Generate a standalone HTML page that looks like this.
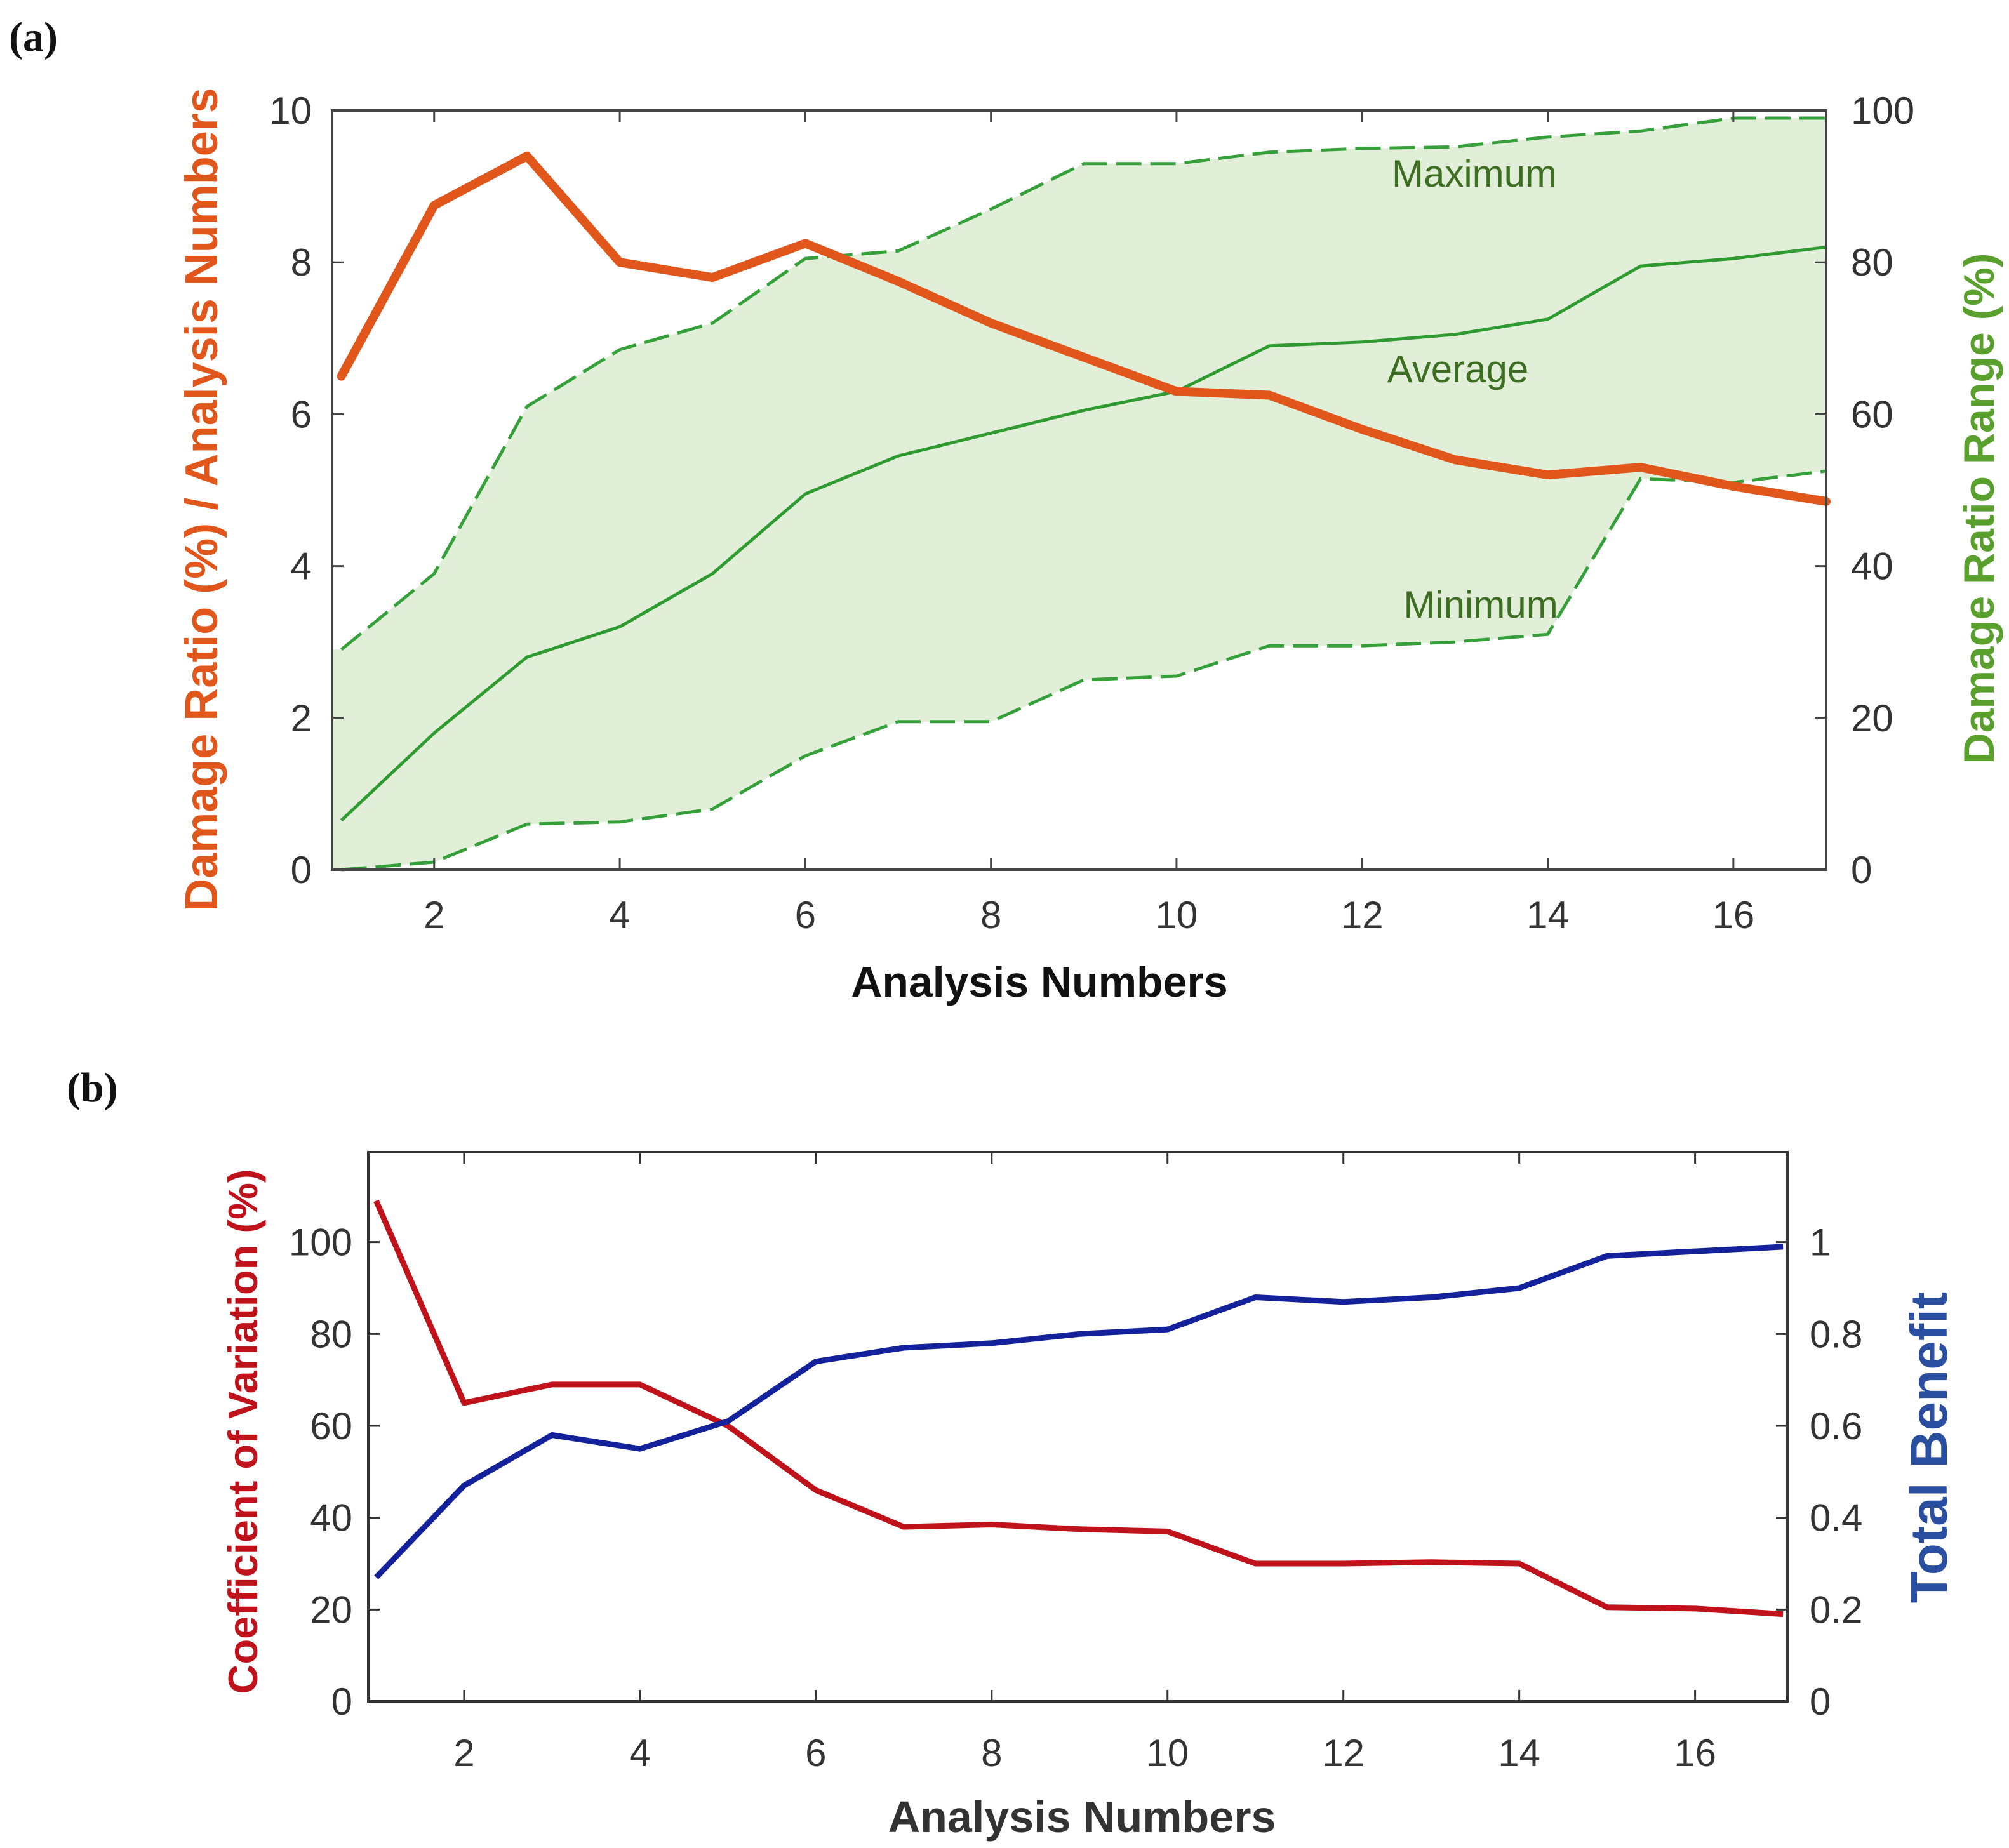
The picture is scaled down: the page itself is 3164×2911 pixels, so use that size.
<!DOCTYPE html>
<html><head><meta charset="utf-8"><style>
html,body{margin:0;padding:0;background:#fff;}
svg{display:block;font-family:"Liberation Sans",Arial,sans-serif;}
</style></head><body>
<svg id="fig" width="3164" height="2911" viewBox="0 0 3164 2911" xmlns="http://www.w3.org/2000/svg">
<rect width="3164" height="2911" fill="#fff"/>
<text x="14" y="80" font-family="Liberation Serif,serif" font-weight="bold" font-size="66" fill="#111">(a)</text>
<text x="105" y="1735" font-family="Liberation Serif,serif" font-weight="bold" font-size="66" fill="#111">(b)</text>
<g id="ga"></g>
<g id="gb"></g>
</svg>
<script>
const xCats = [1,2,3,4,5,6,7,8,9,10,11,12,13,14,15,16,17];
const xTicks = [2,4,6,8,10,12,14,16];
const damageRatio = [6.5,8.75,9.4,8.0,7.8,8.25,7.75,7.2,6.75,6.3,6.25,5.8,5.4,5.2,5.3,5.05,4.85];
const rangeMax = [29,39,61,68.5,72,80.5,81.5,87,93,93,94.5,95,95.2,96.5,97.3,99,99];
const rangeAvg = [6.5,18,28,32,39,49.5,54.5,57.5,60.5,63,69,69.5,70.5,72.5,79.5,80.5,82];
const rangeMin = [0,1,6,6.3,8,15,19.5,19.5,25,25.5,29.5,29.5,30,31,51.5,51,52.5];
const aLeftTicks = [0,2,4,6,8,10];
const aRightTicks = [0,20,40,60,80,100];
const cv = [109,65,69,69,60,46,38,38.5,37.5,37,30,30,30.3,30,20.5,20.2,19];
const totalBenefit = [0.27,0.47,0.58,0.55,0.61,0.74,0.77,0.78,0.80,0.81,0.88,0.87,0.88,0.90,0.97,0.98,0.99];
const bLeftTicks = [0,20,40,60,80,100];
const bRightTicks = [0,0.2,0.4,0.6,0.8,1];
const bRightLabels = ['0','0.2','0.4','0.6','0.8','1'];

const NS='http://www.w3.org/2000/svg';
function mk(parent,tag,attrs,txt){const e=document.createElementNS(NS,tag);for(const k in attrs)e.setAttribute(k,attrs[k]);if(txt!==undefined)e.textContent=txt;parent.appendChild(e);return e;}
function lin(d0,d1,r0,r1){return v=>r0+(v-d0)/(d1-d0)*(r1-r0);}
function pts(xs,ys,sx,sy){return xs.map((x,i)=>sx(x).toFixed(1)+','+sy(ys[i]).toFixed(1)).join(' ');}

// ---------- Chart A ----------
const ga=document.getElementById('ga');
const A={l:523,r:2876,t:174,b:1370};
const ax=lin(0.9,17,A.l,A.r), ayL=lin(0,10,A.b,A.t), ayR=lin(0,100,A.b,A.t);
const band=pts(xCats,rangeMax,ax,ayR)+' '+pts(xCats.slice().reverse(),rangeMin.slice().reverse(),ax,ayR);
const bandEl=mk(ga,'polygon',{points:A.l+','+ayR(rangeMin[0])+' '+band+' '+A.l+','+ayR(rangeMax[0]),fill:'#e1efd9'});


const lb=mk(ga,'polygon',{points:A.l+','+ayR(rangeMax[0])+' '+ax(1)+','+ayR(rangeMax[0])+' '+ax(1)+','+ayR(rangeMin[0])+' '+A.l+','+ayR(rangeMin[0]),fill:'#e1efd9'});


const mxl=mk(ga,'polyline',{points:pts(xCats,rangeMax,ax,ayR),fill:'none',stroke:'#35a03a','stroke-width':5,'stroke-dasharray':'40,14'});


const mnl=mk(ga,'polyline',{points:pts(xCats,rangeMin,ax,ayR),fill:'none',stroke:'#35a03a','stroke-width':5,'stroke-dasharray':'40,14'});


const avl=mk(ga,'polyline',{points:pts(xCats,rangeAvg,ax,ayR),fill:'none',stroke:'#2f9a30','stroke-width':5});


const dr=mk(ga,'polyline',{points:pts(xCats,damageRatio,ax,ayL),fill:'none',stroke:'#e0561b','stroke-width':14,'stroke-linejoin':'round','stroke-linecap':'round'});


const fa=mk(ga,'rect',{x:A.l,y:A.t,width:A.r-A.l,height:A.b-A.t,fill:'none',stroke:'#444','stroke-width':4});


xTicks.forEach(v=>{
  mk(ga,'line',{x1:ax(v),x2:ax(v),y1:A.b,y2:A.b-18,stroke:'#444','stroke-width':3});
  mk(ga,'line',{x1:ax(v),x2:ax(v),y1:A.t,y2:A.t+18,stroke:'#444','stroke-width':3});
  const t=mk(ga,'text',{x:ax(v),y:1462,'text-anchor':'middle','font-size':60,fill:'#333'},String(v));
  
  
});
aLeftTicks.forEach(v=>{
  mk(ga,'line',{x1:A.l,x2:A.l+18,y1:ayL(v),y2:ayL(v),stroke:'#444','stroke-width':3});
  const t=mk(ga,'text',{x:491,y:ayL(v)+21,'text-anchor':'end','font-size':60,fill:'#333'},String(v));
  
  
});
aRightTicks.forEach(v=>{
  mk(ga,'line',{x1:A.r,x2:A.r-18,y1:ayR(v),y2:ayR(v),stroke:'#444','stroke-width':3});
  const t=mk(ga,'text',{x:2915,y:ayR(v)+21,'font-size':60,fill:'#333'},String(v));
  
  
});
[['Maximum',2322,274,'maximum-label'],['Average',2296,582,'average-label'],['Minimum',2332,953,'minimum-label']].forEach(a=>{
  const t=mk(ga,'text',{x:a[1],y:a[2]+20,'text-anchor':'middle','font-size':60,fill:'#3d6e22'},a[0]);
  
  
});
let t=mk(ga,'text',{x:1637,y:1570,'text-anchor':'middle','font-size':68,'font-weight':'bold',fill:'#111'},'Analysis Numbers');


t=mk(ga,'text',{x:0,y:0,transform:'translate(342,787) rotate(-90)','text-anchor':'middle','font-size':72,'font-weight':'bold',fill:'#e0561b'},'Damage Ratio (%) / Analysis Numbers');


t=mk(ga,'text',{x:0,y:0,transform:'translate(3140,801) rotate(-90)','text-anchor':'middle','font-size':68,'font-weight':'bold',fill:'#5aa02c'},'Damage Ratio Range (%)');



// ---------- Chart B ----------
const gb=document.getElementById('gb');
const B={l:580,r:2815,t:1815,b:2680};
const bx=lin(0.91,17.05,B.l,B.r), byL=lin(0,120,B.b,B.t-3), byR=lin(0,1.2,B.b,B.t-3);
const cvl=mk(gb,'polyline',{points:pts(xCats,cv,bx,byL),fill:'none',stroke:'#c0121a','stroke-width':9,'stroke-linejoin':'round'});


const tbl=mk(gb,'polyline',{points:pts(xCats,totalBenefit,bx,byR),fill:'none',stroke:'#13219a','stroke-width':9,'stroke-linejoin':'round'});


const fb=mk(gb,'rect',{x:B.l,y:B.t,width:B.r-B.l,height:B.b-B.t,fill:'none',stroke:'#333','stroke-width':4});


xTicks.forEach(v=>{
  mk(gb,'line',{x1:bx(v),x2:bx(v),y1:B.b,y2:B.b-18,stroke:'#333','stroke-width':3});
  mk(gb,'line',{x1:bx(v),x2:bx(v),y1:B.t,y2:B.t+18,stroke:'#333','stroke-width':3});
  const t=mk(gb,'text',{x:bx(v),y:2782,'text-anchor':'middle','font-size':60,fill:'#333'},String(v));
  
  
});
bLeftTicks.forEach(v=>{
  mk(gb,'line',{x1:B.l,x2:B.l+18,y1:byL(v),y2:byL(v),stroke:'#333','stroke-width':3});
  const t=mk(gb,'text',{x:555,y:byL(v)+21,'text-anchor':'end','font-size':60,fill:'#333'},String(v));
  
  
});
bRightTicks.forEach((v,i)=>{
  mk(gb,'line',{x1:B.r,x2:B.r-18,y1:byR(v),y2:byR(v),stroke:'#333','stroke-width':3});
  const t=mk(gb,'text',{x:2850,y:byR(v)+21,'font-size':60,fill:'#333'},bRightLabels[i]);
  
  
});
t=mk(gb,'text',{x:1704,y:2886,'text-anchor':'middle','font-size':70,'font-weight':'bold',fill:'#333'},'Analysis Numbers');


t=mk(gb,'text',{x:0,y:0,transform:'translate(405,2255) rotate(-90)','text-anchor':'middle','font-size':65,'font-weight':'bold',fill:'#c0121a'},'Coefficient of Variation (%)');


t=mk(gb,'text',{x:0,y:0,transform:'translate(3066,2280) rotate(-90)','text-anchor':'middle','font-size':82,'font-weight':'bold',fill:'#2a4fa0'},'Total Benefit');


</script>
</body></html>
